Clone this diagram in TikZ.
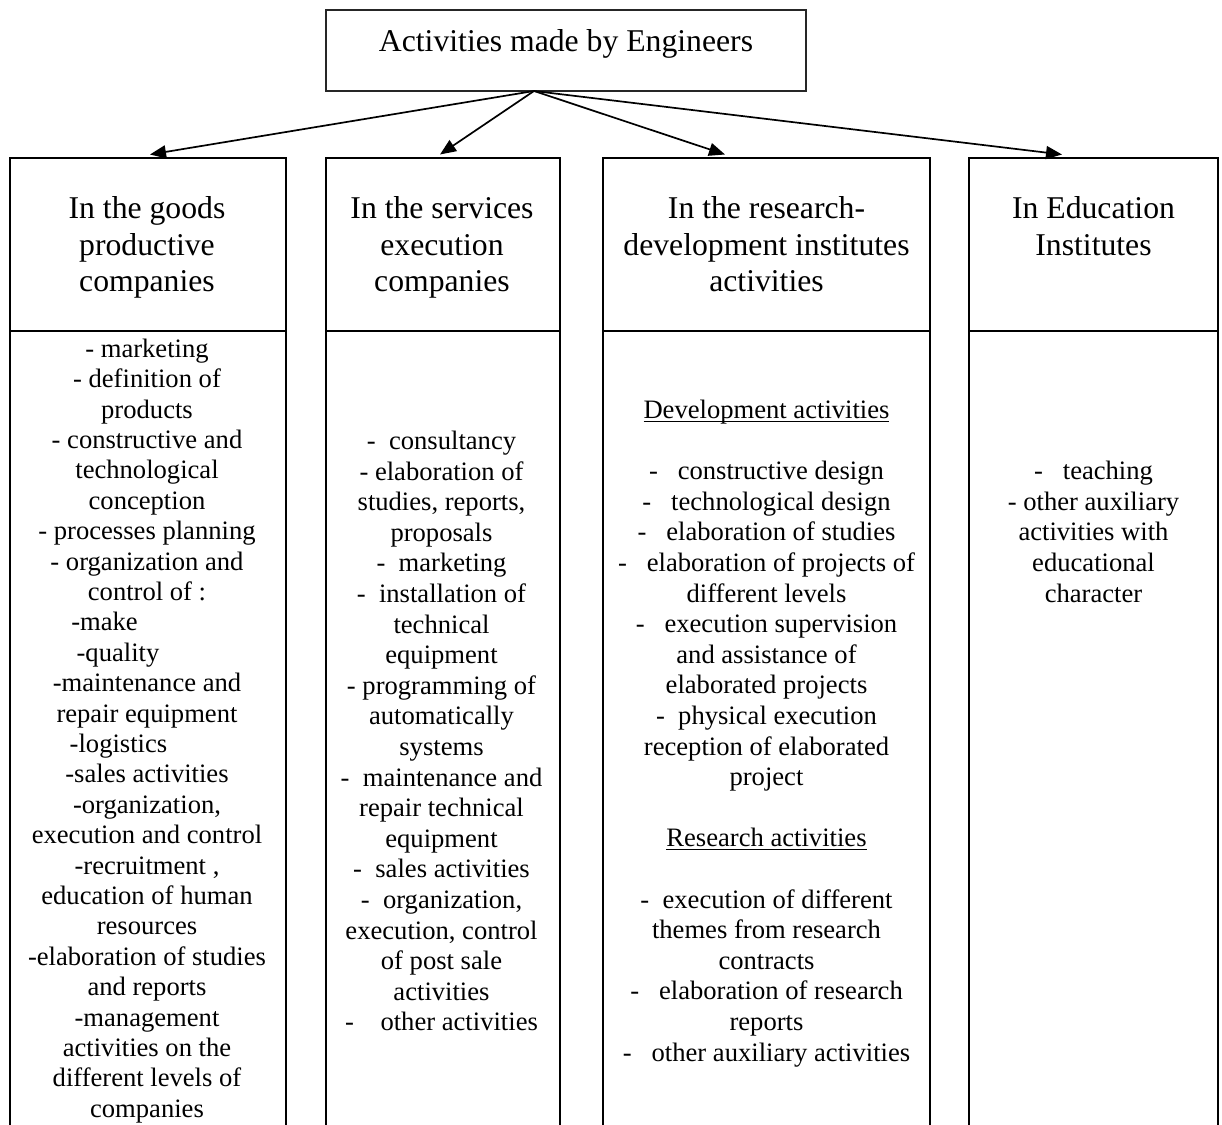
\documentclass[tikz,border=0pt]{standalone}
\usepackage{fontspec}
\setmainfont{Liberation Serif}
\usetikzlibrary{arrows.meta,calc}

% invisible strut fixing the height of a block's first line
\newcommand\firstline[1]{\rule{0pt}{#1}}
% underline set just below the baseline, across the descenders
\newcommand\ulnd[1]{\setbox0=\hbox{#1}\rlap{\rule[-3.5pt]{\wd0}{1.3pt}}\box0}

\begin{document}
\begin{tikzpicture}[x=1pt,y=-1pt,
  frame/.style={draw, line width=2pt, inner sep=0pt, outer sep=0pt},
  headtext/.style={font=\fontsize{31.7}{36.5}\selectfont, align=center, inner sep=0pt, anchor=north},
  bodytext/.style={font=\fontsize{26.6}{30.6}\selectfont, align=center, inner sep=0pt, anchor=north},
  link/.style={line width=1.7pt, -{Triangle[length=16pt,width=13pt]}}
]
\useasboundingbox (0,0) rectangle (1222,1124);
\clip (0,0) rectangle (1222,1124);

% title box
\node[frame, line width=1.5pt, draw=black!85, anchor=north, minimum width=480pt,
      text height=41.5pt, text depth=39.5pt, font=\fontsize{31.7}{36.5}\selectfont]
      (title) at (566,10) {Activities made by Engineers};

% column header cells
\node[frame, anchor=north west, minimum width=276pt, minimum height=173.5pt] (h1) at (10,157.5) {};
\node[frame, anchor=north west, minimum width=234pt, minimum height=173.5pt] (h2) at (326,157.5) {};
\node[frame, anchor=north west, minimum width=327pt, minimum height=173.5pt] (h3) at (603,157.5) {};
\node[frame, anchor=north west, minimum width=249pt, minimum height=173.5pt] (h4) at (969,157.5) {};

% column body cells (running past the lower edge)
\node[frame, anchor=north west, minimum width=276pt, minimum height=820pt] (b1) at (10,331) {};
\node[frame, anchor=north west, minimum width=234pt, minimum height=820pt] (b2) at (326,331) {};
\node[frame, anchor=north west, minimum width=327pt, minimum height=820pt] (b3) at (603,331) {};
\node[frame, anchor=north west, minimum width=249pt, minimum height=820pt] (b4) at (969,331) {};

% header texts
\node[headtext] (t1) at ($(h1.north)+(-1,37)$) {\firstline{24pt}In the goods\\productive\\companies};
\node[headtext] (t2) at ($(h2.north)+(-1,37)$) {\firstline{24pt}In the services\\execution\\companies};
\node[headtext] (t3) at ($(h3.north)+(0,37)$) {\firstline{24pt}In the research-\\development institutes\\activities};
\node[headtext] (t4) at ($(h4.north)+(0,37)$) {\firstline{24pt}In Education\\Institutes};

% body texts
\node[bodytext, font=\fontsize{26.6}{30.4}\selectfont] (l1) at ($(b1.north)+(-1,6)$) {\firstline{20pt}- marketing\\
- definition of\\
products\\
- constructive and\\
technological\\
conception\\
- processes planning\\
- organization and\\
control of :\\
-make\hspace{85pt}\null\\
-quality\hspace{58pt}\null\\
-maintenance and\\
repair equipment\\
-logistics\hspace{57pt}\null\\
-sales activities\\
-organization,\\
execution and control\\
-recruitment ,\\
education of human\\
resources\\
-elaboration of studies\\
and reports\\
-management\\
activities on the\\
different levels of\\
companies};

\node[bodytext] (l2) at ($(b2.north)+(-1.5,98.2)$) {\firstline{20pt}-~~consultancy\\
- elaboration of\\
studies, reports,\\
proposals\\
-~~marketing\\
-~~installation of\\
technical\\
equipment\\
- programming of\\
automatically\\
systems\\
-~~maintenance and\\
repair technical\\
equipment\\
-~~sales activities\\
-~~organization,\\
execution, control\\
of post sale\\
activities\\
-~~~~other activities};

\node[bodytext] (l3) at ($(b3.north)+(0,67.2)$) {\firstline{20pt}\ulnd{Development activities}\\
\mbox{}\\
-~~~constructive design\\
-~~~technological design\\
-~~~elaboration of studies\\
-~~~elaboration of projects of\\
different levels\\
-~~~execution supervision\\
and assistance of\\
elaborated projects\\
-~~physical execution\\
reception of elaborated\\
project\\
\mbox{}\\
\ulnd{Research activities}\\
\mbox{}\\
-~~execution of different\\
themes from research\\
contracts\\
-~~~elaboration of research\\
reports\\
-~~~other auxiliary activities};

\node[bodytext] (l4) at ($(b4.north)+(0,128.4)$) {\firstline{20pt}-~~~teaching\\
- other auxiliary\\
activities with\\
educational\\
character};

% connectors from the title box to the four columns
\coordinate (fork) at ($(title.south west)+(208,0)$);
\draw[link] (fork) -- ($(h1.north west)+(140,-3)$);
\draw[link] (fork) -- ($(h2.north west)+(114,-3)$);
\draw[link] (fork) -- ($(h3.north west)+(122,-3)$);
\draw[link] (fork) -- ($(h4.north west)+(93,-3)$);
\end{tikzpicture}
\end{document}
